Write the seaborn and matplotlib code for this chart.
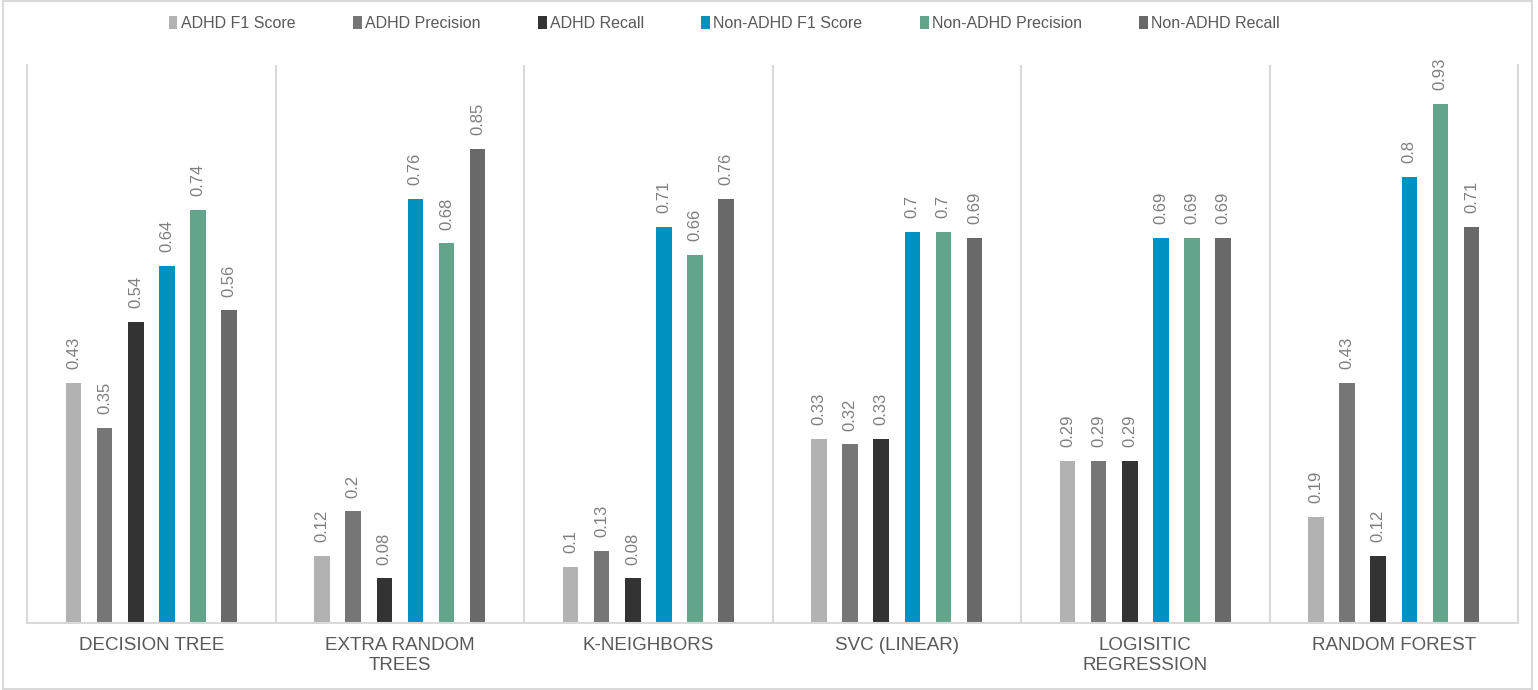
import matplotlib
matplotlib.use("Agg")
import matplotlib.pyplot as plt
import matplotlib.patches as mpatches
import seaborn as sns
import pandas as pd
from matplotlib import font_manager

models = ["DECISION TREE", "EXTRA RANDOM\nTREES", "K-NEIGHBORS", "SVC (LINEAR)",
          "LOGISITIC\nREGRESSION", "RANDOM FOREST"]
metrics = ["ADHD F1 Score", "ADHD Precision", "ADHD Recall",
           "Non-ADHD F1 Score", "Non-ADHD Precision", "Non-ADHD Recall"]
adhd_f1 = [0.43, 0.12, 0.10, 0.33, 0.29, 0.19]
adhd_precision = [0.35, 0.20, 0.13, 0.32, 0.29, 0.43]
adhd_recall = [0.54, 0.08, 0.08, 0.33, 0.29, 0.12]
non_adhd_f1 = [0.64, 0.76, 0.71, 0.70, 0.69, 0.80]
non_adhd_precision = [0.74, 0.68, 0.66, 0.70, 0.69, 0.93]
non_adhd_recall = [0.56, 0.85, 0.76, 0.69, 0.69, 0.71]
colors = ["#B2B2B2", "#767676", "#333333", "#0092C0", "#62A58A", "#696969"]

series = [adhd_f1, adhd_precision, adhd_recall, non_adhd_f1, non_adhd_precision, non_adhd_recall]
rows = []
for m, vals in zip(metrics, series):
    for mod, v in zip(models, vals):
        rows.append({"model": mod, "metric": m, "value": v})
df = pd.DataFrame(rows)

sns.set_theme(style="white")
names = {f.name for f in font_manager.fontManager.ttflist}
base = "Liberation Sans" if "Liberation Sans" in names else "DejaVu Sans"
plt.rcParams["font.family"] = [base, "DejaVu Sans"]

fig = plt.figure(figsize=(15.38, 6.9), dpi=100)
ax = fig.add_axes([0.0176, 0.097, 0.9694, 0.809])

sns.barplot(data=df, x="model", y="value", hue="metric", palette=colors,
            order=models, hue_order=metrics, width=0.75, gap=0.5,
            saturation=1, linewidth=0, ax=ax, legend=True)

for cont in ax.containers:
    ax.bar_label(cont, labels=[f"{b.get_height():g}" for b in cont],
                 rotation=90, padding=10, color="#7F7F7F", fontsize=12)

ax.set_ylim(0, 1.0)
ax.set_xlim(-0.5, 5.5)
ax.set_yticks([])
ax.set_xlabel("")
ax.set_ylabel("")
ax.spines["top"].set_visible(False)
for s in ["left", "right", "bottom"]:
    ax.spines[s].set_color("#D9D9D9")
    ax.spines[s].set_linewidth(1.5)
for xb in [0.5, 1.5, 2.5, 3.5, 4.5]:
    ax.axvline(xb, color="#D9D9D9", lw=1.5, zorder=0)

ax.tick_params(axis="x", length=0, pad=10)
for t in ax.get_xticklabels():
    t.set_fontsize(13.5)
    t.set_color("#595959")
    t.set_linespacing(1.25)

handles, labels = ax.get_legend_handles_labels()
if ax.legend_:
    ax.legend_.remove()
leg = fig.legend(handles, labels, loc="upper center", bbox_to_anchor=(0.471, 0.998),
                 ncol=6, frameon=False, handlelength=0.55, handleheight=0.9,
                 handletextpad=0.2, columnspacing=3.6,
                 prop={"size": 11.5})
for t in leg.get_texts():
    t.set_color("#595959")

fig.patches.append(mpatches.Rectangle((0.002, 0.002), 0.994, 0.996, transform=fig.transFigure,
                                      fill=False, edgecolor="#D9D9D9", lw=1.5))

fig.savefig("out.png", dpi=100, facecolor="white")
